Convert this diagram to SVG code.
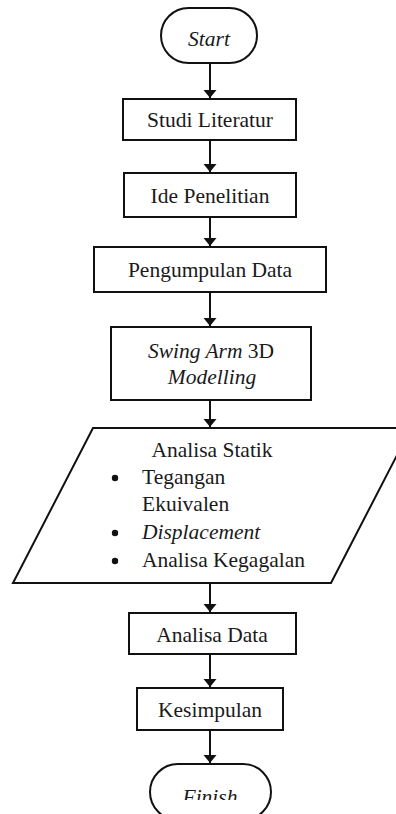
<svg xmlns="http://www.w3.org/2000/svg" width="396" height="814" viewBox="0 0 396 814">
<style>
.s{fill:#fff;stroke:#111;stroke-width:2}
.t{font-family:'Liberation Serif','Times New Roman','DejaVu Serif',serif;font-size:21.5px;fill:#1a1a1a}
.c{text-anchor:middle}
.i{font-style:italic}
.l{stroke:#111;stroke-width:2;fill:none}
</style>
<defs>
<marker id="a" viewBox="0 0 8 14" refX="8" refY="7" markerWidth="8" markerHeight="14" markerUnits="userSpaceOnUse" orient="auto">
<path d="M0,0.5 L8,7 L0,13.5 Z" fill="#111"/>
</marker>
<clipPath id="cf"><rect x="0" y="0" width="396" height="800"/></clipPath>
</defs>
<rect width="396" height="814" fill="#fff"/>
<g id="connectors">
<path class="l" d="M210,63 V98" marker-end="url(#a)"/>
<path class="l" d="M210,140 V172" marker-end="url(#a)"/>
<path class="l" d="M210,217 V246" marker-end="url(#a)"/>
<path class="l" d="M210,292 V326" marker-end="url(#a)"/>
<path class="l" d="M210,400 V427" marker-end="url(#a)"/>
<path class="l" d="M210,583 V612" marker-end="url(#a)"/>
<path class="l" d="M210,654 V687" marker-end="url(#a)"/>
<path class="l" d="M210,730 V763" marker-end="url(#a)"/>
</g>
<g id="start">
<rect class="s" x="161" y="8" width="96" height="55" rx="27.5"/>
<text class="t c i" x="209" y="46" font-family="Liberation Serif, serif">Start</text>
</g>
<g id="studi">
<rect class="s" x="123" y="99" width="173" height="41"/>
<text class="t c" x="210" y="127">Studi Literatur</text>
</g>
<g id="ide">
<rect class="s" x="124" y="173" width="172" height="44"/>
<text class="t c" x="210" y="203">Ide Penelitian</text>
</g>
<g id="pengumpulan">
<rect class="s" x="94" y="247" width="232" height="45"/>
<text class="t c" x="210" y="277">Pengumpulan Data</text>
</g>
<g id="swingarm">
<rect class="s" x="111" y="327" width="200" height="73"/>
<text class="t c" x="211" y="358"><tspan class="i">Swing Arm</tspan> 3D</text>
<text class="t c i" x="212" y="384">Modelling</text>
</g>
<g id="analisa-statik">
<path class="s" d="M93,428 L411,428 L331,583 L13,583 Z"/>
<text class="t c" x="212" y="457">Analisa Statik</text>
<circle cx="115" cy="478" r="3.2" fill="#111"/>
<text class="t" x="142" y="484">Tegangan</text>
<text class="t" x="142" y="511">Ekuivalen</text>
<circle cx="115" cy="533" r="3.2" fill="#111"/>
<text class="t i" x="142" y="539">Displacement</text>
<circle cx="115" cy="561" r="3.2" fill="#111"/>
<text class="t" x="142" y="567">Analisa Kegagalan</text>
</g>
<g id="analisa-data">
<rect class="s" x="129" y="613" width="167" height="41"/>
<text class="t c" x="212" y="642">Analisa Data</text>
</g>
<g id="kesimpulan">
<rect class="s" x="137" y="688" width="146" height="42"/>
<text class="t c" x="210" y="717">Kesimpulan</text>
</g>
<g id="finish">
<rect class="s" x="150" y="764" width="121" height="56" rx="28"/>
<text class="t c i" x="210" y="804" clip-path="url(#cf)">Finish</text>
</g>
</svg>
